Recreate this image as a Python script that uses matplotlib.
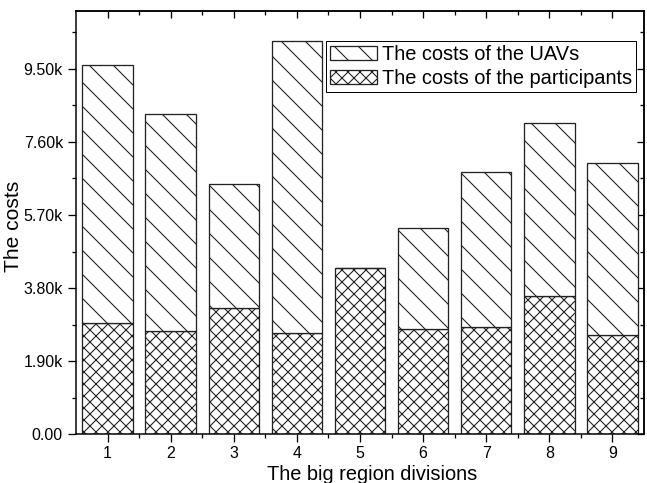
import numpy as np
import matplotlib
matplotlib.use("Agg")
import matplotlib.pyplot as plt
from matplotlib.ticker import FixedLocator, FuncFormatter

# values
regions = [1, 2, 3, 4, 5, 6, 7, 8, 9]
participants = [2896, 2681, 3278, 2645, 4334, 2725, 2790, 3589, 2585]
totals = [9603, 8331, 6496, 10208, 4334, 5362, 6815, 8087, 7041]
uavs = [t - p for t, p in zip(totals, participants)]

ytick_vals = [0, 1900, 3800, 5700, 7600, 9500]
yminor_vals = [950, 2850, 4750, 6650, 8550, 10450]
xminor_vals = [1.5, 2.5, 3.5, 4.5, 5.5, 6.5, 7.5, 8.5]

plt.rcParams['font.family'] = ['Liberation Sans', 'DejaVu Sans']
plt.rcParams['hatch.linewidth'] = 1.1

# dpi 72 so that the hatch spacing comes out like the original
dpi = 72
fig = plt.figure(figsize=(647 / dpi, 483 / dpi), dpi=dpi)
ax = fig.add_axes([76 / 647, 1 - 434.3 / 483, 568 / 647, 423.3 / 483])

b1 = ax.bar(regions, participants, width=0.8, color='white', edgecolor='#222222',
            linewidth=1.3, hatch='xx', label='The costs of the participants')
b2 = ax.bar(regions, uavs, width=0.8, bottom=participants, color='white',
            edgecolor='#222222', linewidth=1.3, hatch='\\',
            label='The costs of the UAVs')

ax.set_xlim(0.5, 9.5)
ax.set_ylim(0, 11000)

ax.set_xticks(regions)
ax.xaxis.set_minor_locator(FixedLocator(xminor_vals))
ax.set_yticks(ytick_vals)
ax.yaxis.set_minor_locator(FixedLocator(yminor_vals))


def kfmt(v, pos):
    if v == 0:
        return "0.00"
    return "%.2fk" % (v / 1000.0)


ax.yaxis.set_major_formatter(FuncFormatter(kfmt))

ax.tick_params(which='major', direction='out', length=8, width=1.3, labelsize=16, pad=5)
ax.tick_params(which='minor', direction='out', length=4, width=1.3)
ax.tick_params(axis='x', which='major', pad=4)

for s in ax.spines.values():
    s.set_linewidth(1.5)

# mirrored ticks on top and right, pointing inwards
top = ax.secondary_xaxis('top')
top.set_xticks(regions)
top.xaxis.set_minor_locator(FixedLocator(xminor_vals))
top.tick_params(which='major', direction='in', length=7, width=1.3, labeltop=False)
top.tick_params(which='minor', direction='in', length=4, width=1.3)
top.spines['top'].set_linewidth(1.5)

right = ax.secondary_yaxis('right')
right.set_yticks(ytick_vals)
right.yaxis.set_minor_locator(FixedLocator(yminor_vals))
right.tick_params(which='major', direction='in', length=7, width=1.3, labelright=False)
right.tick_params(which='minor', direction='in', length=4, width=1.3)
right.spines['right'].set_linewidth(1.5)

fig.text(372 / 647, 1 - 479.5 / 483, 'The big region divisions', fontsize=20,
         ha='center', va='baseline')
fig.text(14 / 647, 1 - 226 / 483, 'The costs', fontsize=21, rotation=90,
         ha='center', va='center')

leg = ax.legend(handles=[b2, b1], loc='upper right',
                bbox_to_anchor=(636 / 647, 1 - 41 / 483), bbox_transform=fig.transFigure,
                borderaxespad=0, fontsize=20, fancybox=False, framealpha=1,
                edgecolor='black', borderpad=0.2, handletextpad=0.25,
                labelspacing=0.25, handlelength=2.35, handleheight=0.75)
leg.get_frame().set_linewidth(1.0)

fig.savefig('out.png', dpi=dpi)
